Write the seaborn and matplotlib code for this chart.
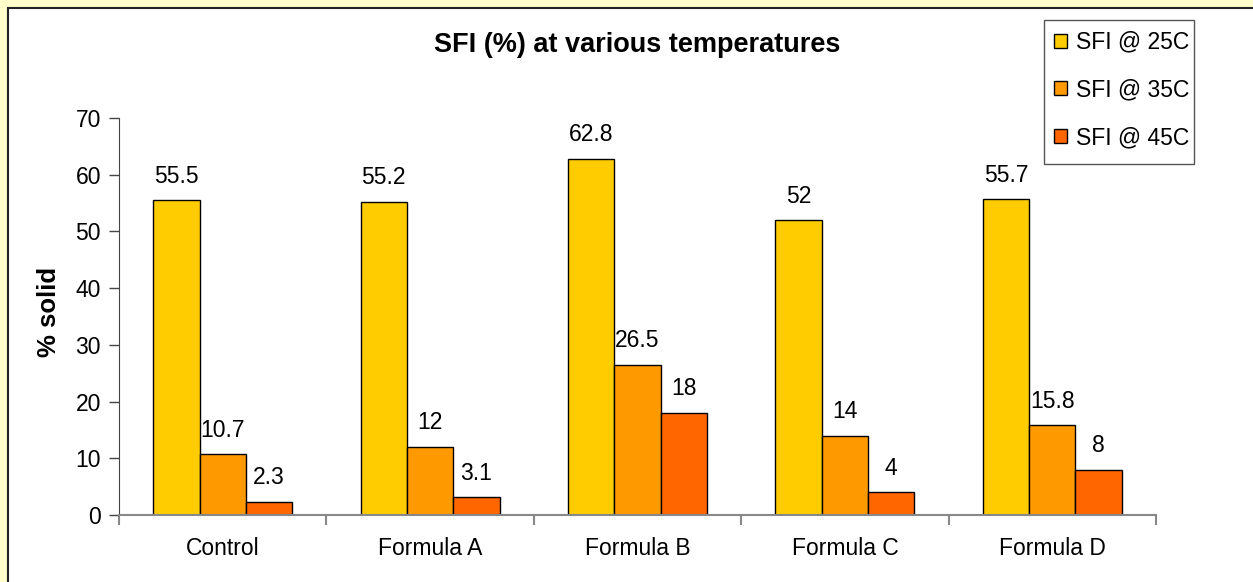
import matplotlib
matplotlib.use("Agg")
import matplotlib.pyplot as plt
from matplotlib.patches import Rectangle
import seaborn as sns
import pandas as pd

formulas = ["Control", "Formula A", "Formula B", "Formula C", "Formula D"]
series = ["SFI @ 25C", "SFI @ 35C", "SFI @ 45C"]
sfi_25 = [55.5, 55.2, 62.8, 52, 55.7]
sfi_35 = [10.7, 12, 26.5, 14, 15.8]
sfi_45 = [2.3, 3.1, 18, 4, 8]
colors = ["#FFCC00", "#FF9900", "#FF6600"]

rows = []
for name, vals in zip(series, [sfi_25, sfi_35, sfi_45]):
    for f, v in zip(formulas, vals):
        rows.append({"formula": f, "series": name, "value": v})
df = pd.DataFrame(rows)

sns.set_style("white")
plt.rcParams["font.family"] = ["Liberation Sans", "DejaVu Sans"]
plt.rcParams["text.color"] = "black"
plt.rcParams["axes.labelcolor"] = "black"
plt.rcParams["xtick.color"] = "black"
plt.rcParams["ytick.color"] = "black"

W, H = 1253, 582
fig = plt.figure(figsize=(W / 100, H / 100), dpi=100, facecolor="#FFFFCC")
# white chart area, dark edge only visible on top/left
fig.patches.append(Rectangle((8 / W, -0.1), 1.2, (H - 7.5) / H + 0.1,
                             transform=fig.transFigure, facecolor="white",
                             edgecolor="#222222", linewidth=1.5, zorder=-1))

ax = fig.add_axes([119 / W, 67 / H, (1156 - 119) / W, (515 - 118) / H])
ax.set_facecolor("white")
sns.barplot(data=df, x="formula", y="value", hue="series", palette=colors,
            edgecolor="black", linewidth=1, width=0.67, ax=ax, saturation=1)

for cont in ax.containers:
    ax.bar_label(cont, labels=[f"{v:g}" for v in cont.datavalues],
                 padding=9, fontsize=16.5)

ax.set_xlim(-0.5, 4.5)
ax.set_ylim(0, 70)
ax.set_yticks(range(0, 71, 10))
ax.tick_params(axis="y", labelsize=16.5, length=7, width=1, color="#444444",
               direction="out", left=True, pad=6)
ax.tick_params(axis="x", which="major", length=0, labelsize=16.5, pad=16)
ax.set_xticks([i - 0.5 for i in range(6)], minor=True)
ax.tick_params(axis="x", which="minor", length=7, width=1.5, color="#888888",
               direction="out", bottom=True)
for s in ["top", "right"]:
    ax.spines[s].set_visible(False)
ax.spines["left"].set_color("#444444")
ax.spines["bottom"].set_color("#888888")
ax.spines["bottom"].set_linewidth(1.5)
ax.set_xlabel("")
ax.set_ylabel("% solid", fontsize=18.5, fontweight="bold")
ax.yaxis.set_label_coords((61 - 119) / (1156 - 119), (515 - 312) / 397)

fig.text(637 / W, 1 - 45 / H, "SFI (%) at various temperatures",
         ha="center", va="center", fontsize=19.5, fontweight="bold")

ax.get_legend().remove()
handles, labels = ax.get_legend_handles_labels()
leg = fig.legend(handles, labels, loc="center left",
                 bbox_to_anchor=(1054 / W, 1 - 90 / H),
                 frameon=False, fontsize=16.5,
                 handlelength=0.55, handleheight=0.55, handletextpad=0.4,
                 labelspacing=1.08, borderpad=0, borderaxespad=0)
# legend frame drawn as its own box
fig.patches.append(Rectangle((1044 / W, 1 - 164 / H), 150 / W, 144 / H,
                             transform=fig.transFigure, facecolor="white",
                             edgecolor="#555555", linewidth=1, zorder=0.5))

fig.savefig("out.png", dpi=100, facecolor=fig.get_facecolor())
